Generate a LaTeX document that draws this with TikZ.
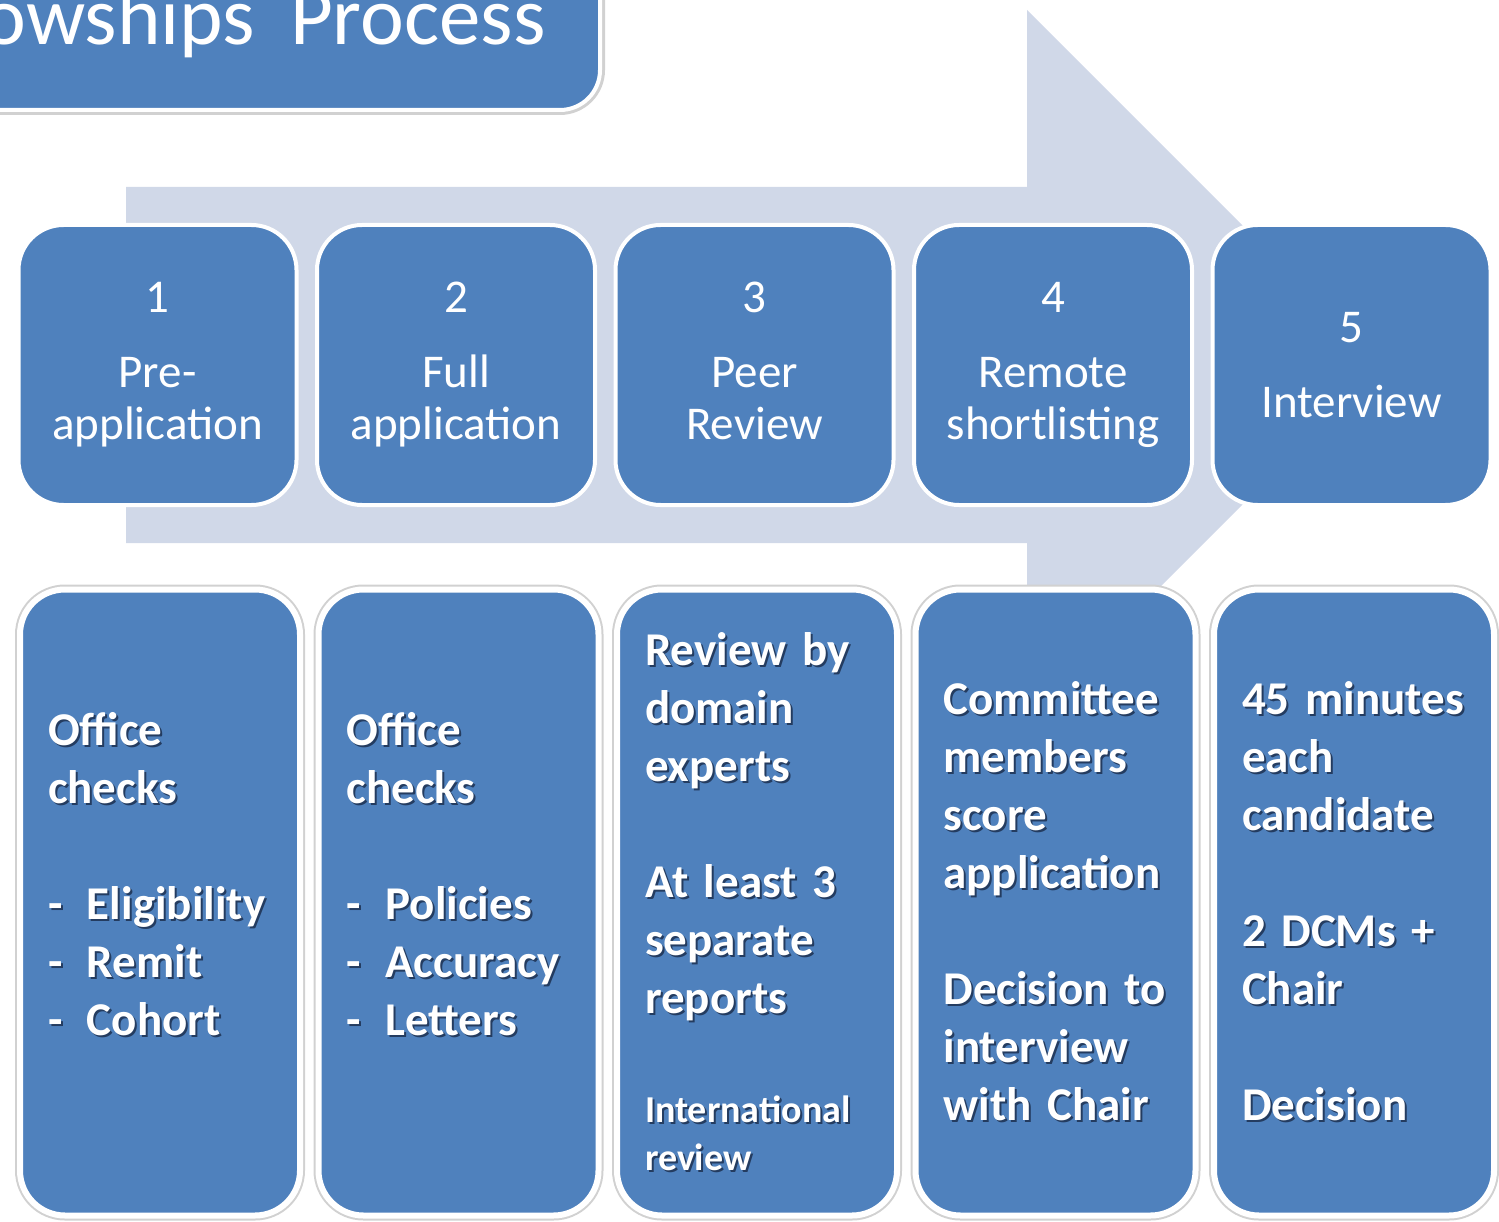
\documentclass[tikz,border=0pt]{standalone}
\usepackage{fontspec}
\setmainfont{Carlito}
\usetikzlibrary{positioning}

\definecolor{boxblue}{RGB}{79,129,189}
\definecolor{arrowblue}{RGB}{208,216,232}
\definecolor{textshade}{RGB}{36,60,96}

% white text with a small dark shadow
\newcommand\shtext[1]{\leavevmode\rlap{\kern2pt\raisebox{-2pt}{\textcolor{textshade}{#1}}}#1}

\begin{document}
\begin{tikzpicture}[x=1pt, y=-1pt,
    titlebox/.style = {fill=boxblue, draw=white, line width=4pt, rounded corners=40pt,
        preaction={draw=black!18, line width=10pt}},
    titletext/.style = {text=white, inner sep=0pt, font=\fontsize{83}{90}\selectfont},
    stepbox/.style = {fill=boxblue, draw=white, line width=4pt, rounded corners=45pt,
        minimum width=278pt, minimum height=280pt, outer sep=0pt, inner sep=0pt,
        text=white, align=center, text width=250pt, font=\fontsize{47}{52}\selectfont},
    detailbox/.style = {fill=boxblue, draw=white, line width=6pt, rounded corners=45pt,
        preaction={draw=black!18, line width=10pt},
        minimum width=280pt, minimum height=626pt, outer sep=0pt,
        inner xsep=28pt, inner ysep=0pt, text=white, align=left, text width=224pt,
        font=\fontsize{47}{58}\selectfont\bfseries}]
	\useasboundingbox (0,0) rectangle (1499,1222);
	\clip (0,0) rectangle (1499,1222);

	% big background arrow
	\fill[arrowblue] (126,187) -- (1027,187) -- (1027,10) -- (1382,365)
	    -- (1027,720) -- (1027,543) -- (126,543) -- cycle;

	% title
	\draw[titlebox] (-400,-300) rectangle (600,110);
	\node[titletext, anchor=base east] (title) at (546,45) {owships\hspace{0.42em}Process};

	% steps
	\node[stepbox] (s1) at (157.5,365) {1\\[23pt]Pre-\\application\vphantom{p}};
	\node[stepbox, right=20.5pt of s1] (s2) {2\\[23pt]Full\\application\vphantom{p}};
	\node[stepbox, right=20.5pt of s2] (s3) {3\\[23pt]Peer\\Review\vphantom{p}};
	\node[stepbox, right=20.5pt of s3] (s4) {4\\[23pt]Remote\\shortlisting\vphantom{p}};
	\node[stepbox, right=20.5pt of s4] (s5) {5\\[23pt]Interview};

	% details
	\node[detailbox] (d1) at (160,902.5) {\shtext{Office}\\\shtext{checks}\\[58pt]%
	    \shtext{\makebox[39pt][l]{-}Eligibility}\\\shtext{\makebox[39pt][l]{-}Remit}\\%
	    \shtext{\makebox[39pt][l]{-}Cohort}\\\mbox{}};
	\node[detailbox, right=18.5pt of d1] (d2) {\shtext{Office}\\\shtext{checks}\\[58pt]%
	    \shtext{\makebox[39pt][l]{-}Policies}\\\shtext{\makebox[39pt][l]{-}Accuracy}\\%
	    \shtext{\makebox[39pt][l]{-}Letters}\\\mbox{}};
	\node[detailbox, right=18.5pt of d2] (d3) {\shtext{Review by}\\\shtext{domain}\\%
	    \shtext{experts}\\[58pt]\shtext{At least 3}\\\shtext{separate}\\\shtext{reports}\\[51pt]%
	    {\fontsize{38}{58}\selectfont\shtext{International}\\[-10pt]\shtext{review}}};
	\node[detailbox, right=18.5pt of d3] (d4) {\shtext{Committee}\\\shtext{members}\\%
	    \shtext{score}\\\shtext{application}\\[58pt]\shtext{Decision to}\\%
	    \shtext{interview}\\\shtext{with Chair}};
	\node[detailbox, right=18.5pt of d4] (d5) {\shtext{45 minutes}\\\shtext{each}\\%
	    \shtext{candidate}\\[58pt]\shtext{2 DCMs +}\\\shtext{Chair}\\[58pt]\shtext{Decision}};
\end{tikzpicture}
\end{document}
